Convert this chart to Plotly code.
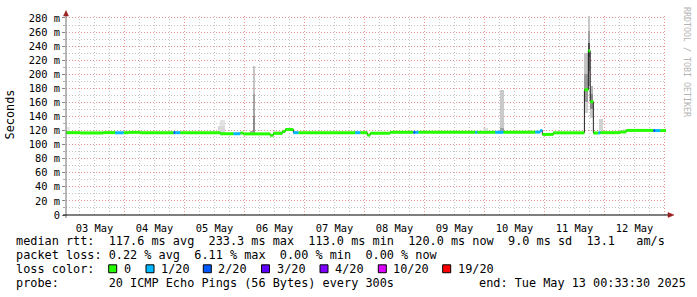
import plotly.graph_objects as go
import pandas as pd

# ---------------- data ----------------
range_start = "2025-05-03 00:33:30"
range_end = "2025-05-13 00:33:30"

# median rtt (ms) as steps: start time, value, loss level index
median_start = [
    "2025-05-03 00:33:30", "2025-05-03 06:15", "2025-05-03 15:30", "2025-05-03 20:15",
    "2025-05-03 23:35", "2025-05-04 01:40", "2025-05-04 06:15", "2025-05-04 19:35",
    "2025-05-04 20:15", "2025-05-04 22:15", "2025-05-05 14:15", "2025-05-05 19:35",
    "2025-05-05 22:15", "2025-05-05 23:30", "2025-05-06 10:15", "2025-05-06 11:30",
    "2025-05-06 15:05", "2025-05-06 16:15", "2025-05-06 19:30", "2025-05-06 21:30",
    "2025-05-07 20:15", "2025-05-07 22:15", "2025-05-08 01:05", "2025-05-08 02:15",
    "2025-05-08 10:15", "2025-05-08 19:30", "2025-05-08 20:15", "2025-05-08 21:30",
    "2025-05-09 20:15", "2025-05-09 21:05", "2025-05-10 04:15", "2025-05-10 07:30",
    "2025-05-10 20:15", "2025-05-10 22:15", "2025-05-10 23:05", "2025-05-11 03:30",
    "2025-05-11 15:55", "2025-05-11 17:30", "2025-05-11 18:15", "2025-05-11 19:30",
    "2025-05-11 21:30", "2025-05-11 22:15", "2025-05-12 06:15", "2025-05-12 08:40",
    "2025-05-12 19:30", "2025-05-12 20:15", "2025-05-12 22:15",
]
median_ms = [
    117.0, 116.6, 117.1, 116.8,
    117.0, 117.4, 116.9, 117.0,
    117.0, 117.0, 115.5, 115.5,
    116.5, 115.3, 113.2, 116.0,
    118.5, 121.5, 117.0, 117.0,
    117.0, 117.0, 113.5, 116.2,
    117.5, 117.5, 117.5, 117.5,
    117.5, 117.5, 117.5, 117.5,
    117.8, 120.0, 114.5, 116.8,
    178.0, 233.3, 161.0, 116.5,
    116.8, 117.0, 118.0, 120.2,
    120.0, 120.0, 120.0,
]
median_loss = [
    0, 0, 0, 1,
    0, 0, 0, 2,
    1, 0, 0, 1,
    0, 0, 0, 0,
    0, 0, 1, 0,
    1, 0, 0, 0,
    0, 2, 1, 0,
    1, 0, 1, 0,
    1, 1, 0, 0,
    0, 0, 0, 0,
    1, 0, 0, 0,
    2, 1, 0,
]

loss_labels = ["0", "1/20", "2/20", "3/20", "4/20", "10/20", "19/20"]
loss_colors = ["#26ff00", "#00b8ff", "#0059ff", "#5e00ff", "#7e00ff", "#dd00ff", "#ff0000"]

# smoke (ping spread) bands: time span, low/high ms, grey shade
smoke_start = [
    "2025-05-03 01:05", "2025-05-05 13:30", "2025-05-05 14:15",
    "2025-05-06 02:15", "2025-05-06 03:15", "2025-05-06 03:15", "2025-05-06 03:15",
    "2025-05-06 11:30", "2025-05-09 23:30",
    "2025-05-10 06:00", "2025-05-10 06:00",
    "2025-05-11 15:55", "2025-05-11 15:55", "2025-05-11 15:55",
    "2025-05-11 17:30", "2025-05-11 17:30", "2025-05-11 17:30", "2025-05-11 17:30", "2025-05-11 17:30",
    "2025-05-11 18:15", "2025-05-11 18:15", "2025-05-11 18:15",
    "2025-05-11 21:55", "2025-05-12 07:30",
]
smoke_end = [
    "2025-05-03 02:15", "2025-05-05 16:15", "2025-05-05 16:15",
    "2025-05-06 03:15", "2025-05-06 04:15", "2025-05-06 04:15", "2025-05-06 04:15",
    "2025-05-06 15:00", "2025-05-10 01:30",
    "2025-05-10 07:35", "2025-05-10 07:35",
    "2025-05-11 17:30", "2025-05-11 17:30", "2025-05-11 17:30",
    "2025-05-11 18:15", "2025-05-11 18:15", "2025-05-11 18:15", "2025-05-11 18:15", "2025-05-11 18:15",
    "2025-05-11 19:30", "2025-05-11 19:30", "2025-05-11 19:30",
    "2025-05-11 23:30", "2025-05-12 08:40",
]
smoke_lo = [
    118, 117, 126,
    117, 117, 140, 172,
    116, 118,
    116, 123,
    145, 160, 200,
    183, 205, 225, 245, 262,
    138, 150, 172,
    118, 118,
]
smoke_hi = [
    125, 126, 135,
    120, 140, 172, 212,
    120, 124,
    123, 177,
    160, 200, 230,
    205, 225, 245, 262, 283,
    150, 172, 183,
    137, 122,
]
smoke_shade = [
    "#e6e6e6", "#d9d9d9", "#e3e3e3",
    "#b0b0b0", "#8c8c8c", "#a4a4a4", "#c4c4c4",
    "#e3e3e3", "#dedede",
    "#a0a0a0", "#c9c9c9",
    "#cfcfcf", "#9a9a9a", "#c4c4c4",
    "#a8a8a8", "#707070", "#505050", "#a0a0a0", "#c8c8c8",
    "#cacaca", "#8a8a8a", "#b8b8b8",
    "#d2d2d2", "#dcdcdc",
]

y_tick_values = [0, 20, 40, 60, 80, 100, 120, 140, 160, 180, 200, 220, 240, 260, 280]
y_tick_labels = ["0", "20 m", "40 m", "60 m", "80 m", "100 m", "120 m", "140 m",
                 "160 m", "180 m", "200 m", "220 m", "240 m", "260 m", "280 m"]
y_minor_values = [10, 30, 50, 70, 90, 110, 130, 150, 170, 190, 210, 230, 250, 270]

stats_rtt = "median rtt:  117.6 ms avg  233.3 ms max  113.0 ms min  120.0 ms now  9.0 ms sd  13.1   am/s"
stats_loss = "packet loss: 0.22 % avg  6.11 % max  0.00 % min  0.00 % now"
loss_title = "loss color:"
probe_text = "probe:       20 ICMP Echo Pings (56 Bytes) every 300s"
end_text = "end: Tue May 13 00:33:30 2025"
y_title = "Seconds"
watermark = "RRDTOOL / TOBI OETIKER"

# ---------------- geometry ----------------
W, H = 697, 297
ML, MR, MT, MB = 66, 31, 14, 82
PW, PH = W - ML - MR, H - MT - MB
Y_MAX = 282.8


def fx(px):
    return (px - ML) / PW


def fy(py):
    return (H - MB - py) / PH


def nb(s):
    return s.replace(" ", "\u00a0")


MONO = "DejaVu Sans Mono"
FS_LEG = 11.85
FS_AX = 10.4

fig = go.Figure()

# smoke bars
s0 = pd.to_datetime(pd.Series(smoke_start))
s1 = pd.to_datetime(pd.Series(smoke_end))
centers = s0 + (s1 - s0) / 2
widths = (s1 - s0).dt.total_seconds() * 1000
fig.add_trace(go.Bar(
    x=centers, y=[h - l for l, h in zip(smoke_lo, smoke_hi)], base=smoke_lo,
    width=list(widths), marker=dict(color=smoke_shade, line=dict(width=0)),
    hoverinfo="skip", showlegend=False,
))

# black median step line
mx = list(median_start) + [range_end]
my = list(median_ms) + [median_ms[-1]]
fig.add_trace(go.Scatter(x=mx, y=my, mode="lines", line=dict(color="#202020", width=1, shape="hv"),
                         hoverinfo="skip", showlegend=False))

# colored median segments per loss level
for li, col in enumerate(loss_colors):
    xs, ys = [], []
    for i in range(len(median_start)):
        if median_loss[i] != li:
            continue
        t_end = median_start[i + 1] if i + 1 < len(median_start) else range_end
        xs += [median_start[i], t_end, None]
        ys += [median_ms[i], median_ms[i], None]
    if xs:
        fig.add_trace(go.Scatter(x=xs, y=ys, mode="lines", line=dict(color=col, width=3),
                                 connectgaps=False, hoverinfo="skip", showlegend=False))

RED_GRID = "rgba(225,110,110,0.75)"
GREY_GRID = "rgba(150,150,150,0.55)"
DASH = "1px,2px"

fig.update_layout(
    width=W, height=H,
    margin=dict(l=ML, r=MR, t=MT, b=MB, pad=0),
    paper_bgcolor="white", plot_bgcolor="white",
    barmode="overlay", bargap=0,
    showlegend=False,
    font=dict(family=MONO, size=FS_AX, color="#000"),
    xaxis=dict(
        type="date", range=[range_start, range_end],
        tickmode="linear", tick0="2025-05-03 00:00", dtick=86400000,
        ticklabelmode="period", tickformat="%d %b",
        showgrid=True, gridcolor=RED_GRID, griddash=DASH, gridwidth=1,
        ticks="", showline=False, zeroline=False, ticklabelstandoff=6,
        tickfont=dict(family=MONO, size=FS_AX, color="#000"),
        minor=dict(tick0="2025-05-03 00:00", dtick=21600000, showgrid=True,
                   gridcolor=GREY_GRID, griddash=DASH, gridwidth=1),
        fixedrange=True,
    ),
    yaxis=dict(
        range=[0, Y_MAX], tickmode="array", tickvals=y_tick_values, ticktext=y_tick_labels,
        showgrid=True, gridcolor=RED_GRID, griddash=DASH, gridwidth=1,
        ticks="outside", ticklen=3, tickcolor="#888", showline=False, zeroline=False,
        tickfont=dict(family=MONO, size=FS_AX, color="#000"),
        minor=dict(tickmode="array", tickvals=y_minor_values, showgrid=True,
                   gridcolor=GREY_GRID, griddash=DASH, gridwidth=1,
                   ticks="outside", ticklen=2, tickcolor="#aaa"),
        fixedrange=True,
    ),
)

shapes = []
# axis lines
shapes.append(dict(type="line", xref="paper", yref="paper", x0=fx(66), x1=fx(66), y0=fy(218), y1=fy(12),
                   line=dict(color="#707070", width=1)))
shapes.append(dict(type="line", xref="paper", yref="paper", x0=fx(63), x1=fx(670), y0=fy(215), y1=fy(215),
                   line=dict(color="#000000", width=1)))
# arrows
ARROW = "#9b2020"
shapes.append(dict(type="path", xref="paper", yref="paper",
                   path=f"M {fx(66)} {fy(8.5)} L {fx(63.5)} {fy(14)} L {fx(68.5)} {fy(14)} Z",
                   fillcolor=ARROW, line=dict(color=ARROW, width=0.5)))
shapes.append(dict(type="path", xref="paper", yref="paper",
                   path=f"M {fx(674)} {fy(215)} L {fx(668)} {fy(212.5)} L {fx(668)} {fy(217.5)} Z",
                   fillcolor=ARROW, line=dict(color=ARROW, width=0.5)))

annotations = []
LX = 14.6
ROWS = [241.5, 255.4, 269.2, 283.2]


def txt(s, px, py, size=FS_LEG, color="#000", xanchor="left", angle=0):
    annotations.append(dict(text=nb(s), x=fx(px), y=fy(py), xref="paper", yref="paper",
                            xanchor=xanchor, yanchor="middle", showarrow=False, textangle=angle,
                            font=dict(family=MONO, size=size, color=color), borderpad=0))


txt(stats_rtt, LX, ROWS[0])
txt(stats_loss, LX, ROWS[1])
txt(loss_title, LX, ROWS[2])
txt(probe_text, LX, ROWS[3])
txt(end_text, 478.3, ROWS[3])

box_left = [108.7, 146.0, 203.3, 261.5, 320.0, 378.3, 442.7]
for bx, lab, col in zip(box_left, loss_labels, loss_colors):
    shapes.append(dict(type="rect", xref="paper", yref="paper", x0=fx(bx), x1=fx(bx + 8),
                       y0=fy(273.3), y1=fy(265.3), fillcolor=col, line=dict(color="#000", width=1)))
    txt(lab, bx + 14.0, ROWS[2])

txt(y_title, 10.5, 114, angle=-90, xanchor="center")
txt(watermark, 687.5, 60, size=8.3, color="#b4b4b4", xanchor="center", angle=90)

fig.update_layout(shapes=shapes, annotations=annotations)

fig.write_html("out.html")
